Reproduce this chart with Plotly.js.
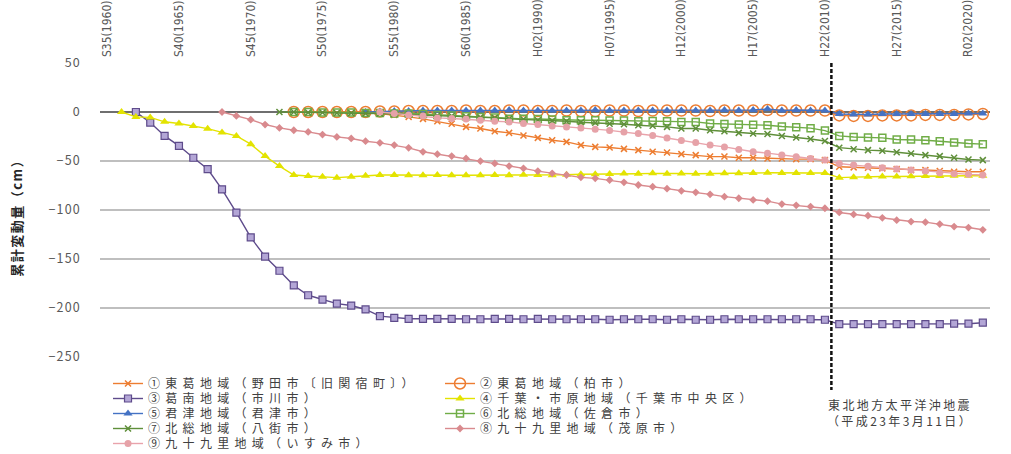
<!DOCTYPE html>
<html>
<head>
<meta charset="utf-8">
<script src="https://cdn.plot.ly/plotly-3.0.1.min.js"></script>
<style>
html,body{margin:0;padding:0;background:#fff;}
#chart{width:1011px;height:454px;}
.legendtext{letter-spacing:5.3px;}
.annotation[data-index="1"] .annotation-text{letter-spacing:2.4px;}
.annotation[data-index="0"] .annotation-text{letter-spacing:1.5px;}
.ytick text{letter-spacing:1.2px;}
</style>
</head>
<body>
<div id="chart"></div>
<script>
// Categories (years)
const years = [1960,1961,1962,1963,1964,1965,1966,1967,1968,1969,
               1970,1971,1972,1973,1974,1975,1976,1977,1978,1979,
               1980,1981,1982,1983,1984,1985,1986,1987,1988,1989,
               1990,1991,1992,1993,1994,1995,1996,1997,1998,1999,
               2000,2001,2002,2003,2004,2005,2006,2007,2008,2009,
               2010,2011,2012,2013,2014,2015,2016,2017,2018,2019,
               2020,2021];

// Tick labels (top axis)
const tickYears  = [1960,1965,1970,1975,1980,1985,1990,1995,2000,2005,2010,2015,2020];
const tickLabels = ['S35(1960)','S40(1965)','S45(1970)','S50(1975)','S55(1980)','S60(1985)',
                    'H02(1990)','H07(1995)','H12(2000)','H17(2005)','H22(2010)','H27(2015)','R02(2020)'];

// Series names
const seriesNames = [
  '①東葛地域（野田市〔旧関宿町〕）',
  '②東葛地域（柏市）',
  '③葛南地域（市川市）',
  '④千葉・市原地域（千葉市中央区）',
  '⑤君津地域（君津市）',
  '⑥北総地域（佐倉市）',
  '⑦北総地域（八街市）',
  '⑧九十九里地域（茂原市）',
  '⑨九十九里地域（いすみ市）'
];

const N = null;
// ① 東葛地域（野田市〔旧関宿町〕）
const s1 = [N,N,N,N,N,N,N,N,N,N, N,N,N,N,N,N,N,N,
  0,-1.5,-3,-5,-7,-9.5,-12,-15.2,-16.9,-19.6,-21.3,-24,
  -26.4,-28.8,-30.5,-33.8,-35.6,-36.2,-37.6,-38.9,-40.6,-41.3,
  -43,-44,-45.5,-45.5,-46.7,-46.7,-47.4,-47.4,-48.1,-48.1,
  -49.1,-55.9,-56.5,-56.9,-57.5,-58.2,-59.3,-59.3,-60.3,-61,-61,-61];
// ② 東葛地域（柏市）
const s2 = [N,N,N,N,N,N,N,N,N,N, N,N,N,
  0,0,0,0,0,0,0.5,0.5,
  1,1,1,1,1.5,1,1,1.5,1.5,1,
  1,1.5,1,1,1.5,1.5,1,1.5,1.5,1.5,
  1.5,1,1.5,1.5,1.5,2,1.5,1.5,1.5,1.5,
  -3.5,-4,-4,-3.5,-3.5,-3.5,-3,-3,-3,-2.5,-2];
// ③ 葛南地域（市川市）
const s3 = [N,N,
  0,-10.8,-24.4,-34.5,-46.7,-58.2,-78.9,-102.6,
  -128,-147.5,-162,-177,-187,-191.5,-195.5,-197.5,-201.5,-208.3,
  -210,-211,-211,-211,-211,-211.5,-211.5,-211,-211,-211.5,
  -211,-211.5,-211.5,-211.5,-211.5,-212,-211.5,-211.5,-211.5,-212,
  -211.5,-212,-212,-211.5,-211.5,-211.5,-211.5,-211.5,-211.5,-211.5,
  -212,-216.5,-216.5,-216.5,-216.5,-216.5,-216.5,-216.5,-216.5,-216,-216,-215];
// ④ 千葉・市原地域（千葉市中央区）
const s4 = [N,
  0,-5,-5.5,-10,-11.8,-14.3,-17,-20.8,-24.4,
  -32.8,-45,-55.2,-64.3,-65.3,-66,-67,-66,-65,-64.3,
  -64.3,-64.5,-64.5,-64.3,-64.5,-64.5,-64.5,-64.3,-64.5,-64,
  -64.3,-64.5,-64,-63.5,-63.5,-63.3,-62.8,-63,-62.6,-63,
  -62.8,-63,-63,-62.6,-62.6,-62.3,-62,-62.3,-62.3,-62.3,
  -62.3,-67,-66.5,-66,-65.8,-65.8,-65.5,-65.3,-65.3,-65,-65,-65];
// ⑤ 君津地域（君津市）
const s5 = [N,N,N,N,N,N,N,N,N,N, N,N,N,N,N,N,N,N,
  0,0.5,1,
  1,1.5,1.5,1.5,1.5,1.5,1.5,2,1.5,1.5,
  1.5,1.5,1.5,2,1.5,1.5,1.5,1.5,1.5,1.5,
  1.5,1.5,2,1.5,2,3,1.5,2,1.5,1.5,
  -2,-2.5,-2.5,-2,-2,-2,-2,-2,-2,-1.5,-1.5];
// ⑥ 北総地域（佐倉市）
const s6 = [N,N,N,N,N,N,N,N,N,N, N,N,N,
  0,0,-0.5,-0.5,-0.5,-1,-1,-1.5,
  -1.5,-2,-3,-3.5,-4.4,-5,-5.6,-6.8,-7,-7.2,
  -7.6,-8.4,-8.4,-8.4,-8.6,-8.8,-9.5,-9.3,-9.5,-10.1,
  -10.1,-11.8,-12.3,-12.8,-13,-13.5,-14.8,-15.5,-16.5,-19,
  -24.4,-25.5,-26,-26.4,-28,-28.1,-28.8,-29.8,-31.1,-32.1,-32.8];
// ⑦ 北総地域（八街市）
const s7 = [N,N,N,N,N,N,N,N,N,N, N,N,
  0,0,-0.5,-0.5,-1,-1,-1.5,-1.5,-2,
  -2.5,-3,-3.5,-4,-5,-5.5,-6,-7,-7.5,-8.5,
  -9,-9.5,-10.5,-11,-12,-12.5,-13.5,-14,-15.2,-16.9,
  -16.9,-18.6,-19.6,-21.3,-22,-22.5,-24.5,-26,-27.5,-29.6,
  -36.4,-38,-38.9,-39.5,-41,-42.3,-44,-45,-46.7,-48.4,-49.1];
// ⑧ 九十九里地域（茂原市）
const s8 = [N,N,N,N,N,N,N,N,
  0,-4,-7.8,-12.8,-16.2,-18.6,-20.3,-23,-25.4,-27,-29.8,-31.5,
  -33.8,-36.6,-40.6,-43,-45,-47.4,-50.1,-52.5,-55.2,-57.5,
  -60.3,-62.6,-64.3,-66.7,-67.7,-69.4,-71.8,-74.5,-76.2,-78.2,
  -80.4,-82,-84,-86.4,-88,-89.7,-91,-94,-95.2,-96.5,
  -98.2,-102.5,-104.5,-105.8,-108,-110.4,-111.8,-112.4,-114.4,-116.9,-117.9,-120.2];
// ⑨ 九十九里地域（いすみ市）
const s9 = [N,N,N,N,N,N,N,N,N,N, N,N,N,N,N,N,N,N,N,
  0,-1.5,-3,-4,-6,-6.6,-7.2,-8.4,-9.5,-10.1,-11.8,
  -12.8,-14.2,-15.2,-16.2,-17.5,-18.8,-20.5,-22,-24,-26.5,
  -29,-31,-33.8,-35.6,-38.2,-40.6,-42,-44,-45.7,-47.4,
  -49.1,-52.5,-54.2,-55.4,-57,-58.2,-59.3,-60.3,-61.9,-63,-63.6,-64.3];

const seriesValues = [s1,s2,s3,s4,s5,s6,s7,s8,s9];

// Styles
const styles = [
  {line:'#ED7D31', marker:{symbol:'x-thin', size:6, color:'#ED7D31', line:{color:'#ED7D31', width:1.5}}},
  {line:'#ED7D31', marker:{symbol:'circle-open', size:11, color:'#ED7D31', line:{color:'#ED7D31', width:1.5}}},
  {line:'#5E4B8B', marker:{symbol:'square', size:7, color:'#B3A6D6', line:{color:'#5E4B8B', width:1.2}}},
  {line:'#E3E300', marker:{symbol:'triangle-up', size:8, color:'#E3E300', line:{color:'#E3E300', width:0}}},
  {line:'#4472C4', marker:{symbol:'triangle-up', size:8, color:'#4472C4', line:{color:'#4472C4', width:0}}},
  {line:'#70AD47', marker:{symbol:'square-open', size:7, color:'#70AD47', line:{color:'#70AD47', width:1.5}}},
  {line:'#5F8F3A', marker:{symbol:'x-thin', size:6, color:'#5F8F3A', line:{color:'#5F8F3A', width:1.5}}},
  {line:'#D98A8E', marker:{symbol:'diamond', size:6, color:'#D98A8E', line:{color:'#D98A8E', width:0}}},
  {line:'#E9A3AB', marker:{symbol:'circle', size:7, color:'#E6A2A8', line:{color:'#E6A2A8', width:0}}}
];

const traces = seriesValues.map((vals, i) => ({
  type: 'scatter',
  mode: 'lines+markers',
  name: seriesNames[i],
  x: years,
  y: vals,
  connectgaps: false,
  line: {color: styles[i].line, width: 1.4},
  marker: styles[i].marker,
  hoverinfo: 'skip'
}));

const W = 1011, H = 454;
const M = {l:100, r:21, t:63, b:97, autoexpand: false};
const plotH = H - M.t - M.b;
const pyToPaper = (py) => (H - M.b - py) / plotH;

const jp = '"Noto Sans CJK JP", "Noto Sans", sans-serif';

const layout = {
  width: W, height: H,
  margin: M,
  paper_bgcolor: '#ffffff',
  plot_bgcolor: '#ffffff',
  showlegend: true,
  xaxis: {
    range: [1959.5, 2021.5],
    side: 'top',
    tickmode: 'array',
    tickvals: tickYears,
    ticktext: tickLabels,
    tickangle: -90,
    ticks: '',
    ticklabelstandoff: 5,
    showgrid: false,
    zeroline: false,
    showline: false,
    automargin: false,
    tickfont: {family: '"Liberation Sans Narrow", "DejaVu Sans Condensed", "Arial Narrow", sans-serif', size: 12, color: '#595959'}
  },
  yaxis: {
    range: [-250, 50],
    tick0: 0, dtick: 50,
    ticks: '',
    ticklabelstandoff: 18,
    showgrid: true,
    gridcolor: '#bfbfbf',
    gridwidth: 1.3,
    zeroline: true,
    zerolinecolor: '#6f6f6f',
    zerolinewidth: 1.5,
    showline: false,
    automargin: false,
    tickfont: {family: jp, size: 12.5, color: '#595959'}
  },
  legend: {
    orientation: 'h',
    x: 0.009, xanchor: 'left',
    y: pyToPaper(369), yanchor: 'top',
    entrywidth: 287, entrywidthmode: 'pixels',
    traceorder: 'normal',
    itemwidth: 30,
    bgcolor: 'rgba(0,0,0,0)',
    font: {family: jp, size: 12, color: '#404040'}
  },
  shapes: [{
    type: 'line', layer: 'above',
    xref: 'x', x0: 2010.45, x1: 2010.45,
    yref: 'paper', y0: 1, y1: pyToPaper(390),
    line: {color: '#111111', width: 2.5, dash: '4px,2px'}
  }],
  annotations: [
    {
      xref: 'paper', yref: 'paper',
      x: (16 - M.l) / (W - M.l - M.r), y: pyToPaper(215),
      text: '累計変動量（cm）',
      textangle: -90, showarrow: false,
      xanchor: 'center', yanchor: 'middle',
      font: {family: jp, size: 13, color: '#262626', weight: 'bold'}
    },
    {
      xref: 'paper', yref: 'paper',
      x: (900 - M.l) / (W - M.l - M.r), y: pyToPaper(412),
      text: '東北地方太平洋沖地震<br>（平成23年3月11日）',
      showarrow: false, xanchor: 'center', yanchor: 'middle', align: 'center',
      font: {family: jp, size: 12, color: '#404040'}
    }
  ]
};

Plotly.newPlot('chart', traces, layout, {displayModeBar: false, staticPlot: true}).then(function(gd){
  // tighten legend row spacing to match reference (15px rows)
  const ROW = 15;
  const items = gd.querySelectorAll('.legend .traces');
  const pos = [];
  items.forEach(el => {
    const m = /translate\(\s*([-\d.]+)[ ,]+([-\d.]+)\s*\)/.exec(el.getAttribute('transform') || '');
    pos.push(m ? [parseFloat(m[1]), parseFloat(m[2])] : null);
  });
  const ys = Array.from(new Set(pos.filter(p => p).map(p => p[1]))).sort((a,b)=>a-b);
  items.forEach((el, i) => {
    const p = pos[i]; if(!p) return;
    const r = ys.indexOf(p[1]);
    el.setAttribute('transform', 'translate(' + p[0] + ',' + (ys[0] + r*ROW) + ')');
  });
});
</script>
</body>
</html>
